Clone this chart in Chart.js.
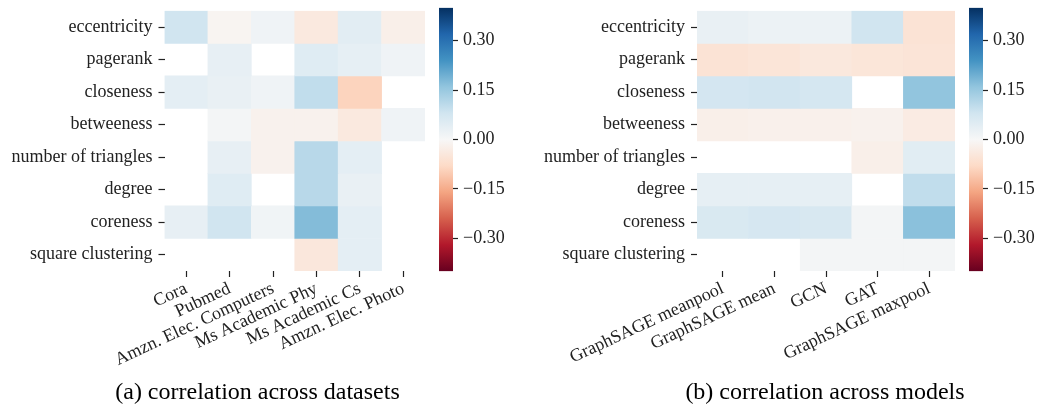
<!DOCTYPE html>
<html>
<head>
<meta charset="utf-8">
<script src="https://cdn.jsdelivr.net/npm/chart.js@4.4.0/dist/chart.umd.min.js"></script>
<style>
  body { margin: 0; background: #fff; width: 1043px; height: 411px; position: relative; overflow: hidden; }
  canvas { position: absolute; }
  .cap { position: absolute; font-family: "Liberation Serif", serif; font-size: 24px; color: #000; text-align: center; white-space: nowrap; }
</style>
</head>
<body>
<canvas id="heatA" style="left:0;top:-6px" width="430" height="386"></canvas>
<canvas id="barA" style="left:430px;top:-8px" width="85" height="295"></canvas>
<canvas id="heatB" style="left:520px;top:-6px" width="440" height="386"></canvas>
<canvas id="barB" style="left:960px;top:-8px" width="83" height="295"></canvas>
<div class="cap" style="left:0;width:515px;top:378px">(a) correlation across datasets</div>
<div class="cap" style="left:560px;width:530px;top:378px">(b) correlation across models</div>

<script>
// données (null = case vide)
const features = ['eccentricity', 'pagerank', 'closeness', 'betweeness',
  'number of triangles', 'degree', 'coreness', 'square clustering'];
const datasetNames = ['Cora', 'Pubmed', 'Amzn. Elec. Computers', 'Ms Academic Phy',
  'Ms Academic Cs', 'Amzn. Elec. Photo'];
const modelNames = ['GraphSAGE meanpool', 'GraphSAGE mean', 'GCN', 'GAT', 'GraphSAGE maxpool'];

const corrDatasets = [
  [0.08, -0.01, 0.017, -0.04, 0.044, -0.023],
  [null, 0.034, null, 0.05, 0.036, 0.017],
  [0.04, 0.03, 0.017, 0.10, -0.09, null],
  [null, 0.008, -0.017, -0.017, -0.04, 0.017],
  [null, 0.034, -0.017, 0.112, 0.04, null],
  [null, 0.05, null, 0.112, 0.03, null],
  [0.034, 0.08, 0.015, 0.174, 0.04, null],
  [null, null, null, -0.045, 0.04, null]
];
const corrModels = [
  [0.03, 0.023, 0.023, 0.08, -0.057],
  [-0.057, -0.052, -0.043, -0.05, -0.054],
  [0.074, 0.078, 0.072, null, 0.16],
  [-0.023, -0.02, -0.02, -0.017, -0.034],
  [null, null, null, -0.023, 0.046],
  [0.036, 0.036, 0.036, null, 0.10],
  [0.064, 0.07, 0.066, 0.008, 0.167],
  [null, null, 0.008, 0.008, 0.008]
];
const colorbarTicks = [-0.3, -0.15, 0, 0.15, 0.3];
const vmin = -0.4, vmax = 0.4;

// palette RdBu (rouge -> bleu)
const rdbu = ['#67001f', '#b2182b', '#d6604d', '#f4a582', '#fddbc7', '#f7f7f7',
  '#d1e5f0', '#92c5de', '#4393c3', '#2166ac', '#053061'];

function hexToRgb(h) {
  return [parseInt(h.slice(1, 3), 16), parseInt(h.slice(3, 5), 16), parseInt(h.slice(5, 7), 16)];
}

function couleur(v) {
  if (v === null) return 'rgba(0,0,0,0)';
  let t = (v - vmin) / (vmax - vmin);
  t = Math.max(0, Math.min(1, t));
  const pos = t * (rdbu.length - 1);
  const i = Math.min(Math.floor(pos), rdbu.length - 2);
  const f = pos - i;
  const a = hexToRgb(rdbu[i]), b = hexToRgb(rdbu[i + 1]);
  const c = a.map((x, k) => Math.round(x + (b[k] - x) * f));
  return `rgb(${c[0]},${c[1]},${c[2]})`;
}

const police = { family: 'Liberation Serif', size: 18 };
const texte = '#222';

function heatmap(id, cols, valeurs, largeurY) {
  new Chart(document.getElementById(id), {
    type: 'bar',
    data: {
      labels: cols,
      datasets: features.map((f, i) => ({
        label: f,
        data: cols.map(() => 1),
        backgroundColor: valeurs[i].map(couleur),
        borderWidth: 0,
        barPercentage: 1,
        categoryPercentage: 1
      }))
    },
    options: {
      responsive: false,
      animation: false,
      layout: { padding: { top: 9, right: 5 } },
      plugins: { legend: { display: false }, tooltip: { enabled: false } },
      scales: {
        x: {
          stacked: true,
          grid: { offset: false, drawOnChartArea: false, tickLength: 6, color: texte, tickWidth: 1.2 },
          border: { display: false },
          ticks: { autoSkip: false, minRotation: 25, maxRotation: 25, color: texte, font: police, padding: 1 },
          afterFit: (axis) => { axis.height = 109; }
        },
        y: {
          stacked: true,
          reverse: true,
          min: 0,
          max: features.length,
          grid: { drawOnChartArea: false, tickLength: 6, color: texte, tickWidth: 1.2 },
          border: { display: false },
          ticks: { color: texte, font: police, padding: 6, callback: (v, idx) => features[idx] },
          afterBuildTicks: (axis) => { axis.ticks = features.map((f, i) => ({ value: i + 0.5 })); },
          afterFit: (axis) => { axis.width = largeurY; }
        }
      }
    }
  });
}

function colorbar(id, largeurY) {
  new Chart(document.getElementById(id), {
    type: 'bar',
    data: {
      labels: [''],
      datasets: [{
        data: [[vmin, vmax]],
        borderWidth: 0,
        barPercentage: 1,
        categoryPercentage: 1,
        backgroundColor: (ctx) => {
          const area = ctx.chart.chartArea;
          if (!area) return null;
          const g = ctx.chart.ctx.createLinearGradient(0, area.bottom, 0, area.top);
          rdbu.forEach((c, i) => g.addColorStop(i / (rdbu.length - 1), c));
          return g;
        }
      }]
    },
    options: {
      responsive: false,
      animation: false,
      layout: { padding: { top: 7, bottom: 9, left: 9 } },
      plugins: { legend: { display: false }, tooltip: { enabled: false } },
      scales: {
        x: { display: false },
        y: {
          position: 'right',
          min: vmin,
          max: vmax,
          grid: { drawOnChartArea: false, tickLength: 5, color: texte, tickWidth: 1.2 },
          border: { display: false },
          ticks: {
            color: texte, font: police, padding: 5,
            callback: (v) => (v < 0 ? '\u2212' + Math.abs(v).toFixed(2) : v.toFixed(2))
          },
          afterBuildTicks: (axis) => { axis.ticks = colorbarTicks.map((v) => ({ value: v })); },
          afterFit: (axis) => { axis.width = largeurY; }
        }
      }
    }
  });
}

heatmap('heatA', datasetNames, corrDatasets, 164.5);
colorbar('barA', 62);
heatmap('heatB', modelNames, corrModels, 177);
colorbar('barB', 60);
</script>
</body>
</html>
